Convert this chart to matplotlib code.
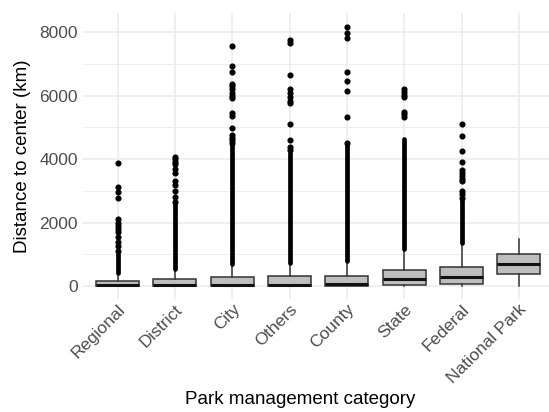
import matplotlib
matplotlib.use("Agg")
import matplotlib.pyplot as plt

plt.rcParams["font.family"] = ["Liberation Sans", "DejaVu Sans"]

categories = ["Regional", "District", "City", "Others", "County", "State", "Federal", "National Park"]

# box statistics (km)
whis_lo = [0, 0, 0, 0, 0, 0, 0, 0]
q1 = [5, 5, 5, 5, 5, 44, 75, 377]
median = [25, 30, 35, 45, 55, 211, 295, 692]
q3 = [150, 210, 295, 300, 315, 503, 590, 1006]
whis_hi = [345, 500, 665, 685, 760, 1130, 1310, 1470]

# isolated outliers
fliers = [
    [3880, 3130, 2960, 2790, 2100, 2000, 1900, 1800, 1700, 1560, 1400, 1250, 1100],
    [4080, 4000, 3920, 3850, 3700, 3550, 3300, 3200, 3000, 2800, 2650],
    [7580, 6950, 6740, 6380, 6300, 6220, 6100, 6000, 5930, 5450, 5370, 4980,
     4750, 4680, 4600, 4520],
    [7750, 7650, 6650, 6200, 6080, 5950, 5850, 5780, 5120, 4590, 4400, 4300],
    [8180, 7990, 7810, 6750, 6470, 6140, 5320, 4520],
    [6200, 6120, 6040, 5950, 5500, 5420, 5330],
    [5100, 4740, 4250, 3910, 3650, 3560, 3470, 3380, 3300, 3000, 2900, 2780],
    [],
]

# ranges where outliers overlap into a continuous column
dense_lo = [400, 530, 700, 710, 790, 1160, 1350, None]
dense_hi = [1000, 2550, 4450, 4200, 4450, 4650, 2700, None]

fig = plt.figure(figsize=(5.49, 4.12), dpi=100)
ax = fig.add_axes([0.1517, 0.2743, 0.856, 0.694])

positions = list(range(1, len(categories) + 1))
stats = []
for i, name in enumerate(categories):
    stats.append({
        "label": name, "whislo": whis_lo[i], "q1": q1[i], "med": median[i],
        "q3": q3[i], "whishi": whis_hi[i], "fliers": fliers[i],
    })

ax.bxp(
    stats, positions=positions, widths=0.75, patch_artist=True, showcaps=False,
    boxprops=dict(facecolor="#bebebe", edgecolor="#333333", linewidth=1.1),
    medianprops=dict(color="#111111", linewidth=2.2),
    whiskerprops=dict(color="#333333", linewidth=1.1),
    flierprops=dict(marker="o", markersize=3.4, markerfacecolor="black",
                    markeredgecolor="black", linestyle="none"),
    zorder=3,
)

for pos, lo, hi in zip(positions, dense_lo, dense_hi):
    if lo is None:
        continue
    ax.vlines(pos, lo, hi, color="black", linewidth=3.4, capstyle="round", zorder=3)

ax.set_xlim(0.4, 8.6)
ax.set_ylim(-410, 8610)
ax.set_yticks([0, 2000, 4000, 6000, 8000])
ax.set_yticks([1000, 3000, 5000, 7000], minor=True)
ax.set_xticks(positions)
ax.set_xticklabels(categories, rotation=45, ha="right", rotation_mode="anchor")

ax.grid(True, which="major", color="#ebebeb", linewidth=1.1, zorder=0)
ax.grid(True, which="minor", axis="y", color="#ebebeb", linewidth=0.6, zorder=0)
ax.set_axisbelow(True)
for s in ax.spines.values():
    s.set_visible(False)
ax.tick_params(which="both", length=0, labelsize=12.5, labelcolor="#4d4d4d")
ax.tick_params(axis="y", pad=4)
ax.tick_params(axis="x", pad=2)

ax.set_ylabel("Distance to center (km)", fontsize=13.5, color="black")
ax.set_xlabel("Park management category", fontsize=13.5, color="black")
ax.yaxis.set_label_coords(-0.112, 0.5)
ax.xaxis.set_label_coords((300 / 549 - 0.1517) / 0.856, -0.322)

fig.savefig("out.png", dpi=100, facecolor="white")
